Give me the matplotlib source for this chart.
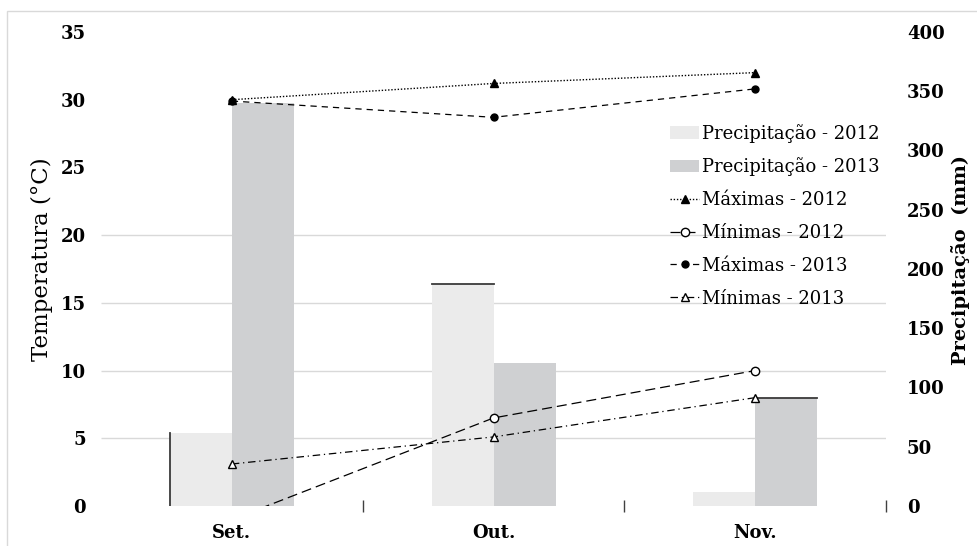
"""Monthly temperature extremes and rainfall, Sep-Nov 2012/2013."""

import matplotlib

matplotlib.use("Agg")
import matplotlib.pyplot as plt
import matplotlib.transforms as mtransforms
import numpy as np
from matplotlib.patches import Rectangle

months = ["Set.", "Out.", "Nov."]
precip_2012 = [62, 187, 12]
precip_2013 = [340, 121, 91]
tmax_2012 = [30.0, 31.2, 32.0]
tmin_2012 = [-1.0, 6.5, 10.0]
tmax_2013 = [29.9, 28.7, 30.8]
tmin_2013 = [3.1, 5.1, 8.0]

temp_ticks = [0, 5, 10, 15, 20, 25, 30, 35]
grid_levels = [5, 10, 15, 20]
precip_ticks = [0, 50, 100, 150, 200, 250, 300, 350, 400]

plt.rcParams["font.family"] = "DejaVu Serif"

fig = plt.figure(figsize=(9.77, 5.46), dpi=100)
fig.patches.append(Rectangle((0.0072, -0.02), 1.1, 1.0, transform=fig.transFigure,
                             fill=False, edgecolor="#d9d9d9", linewidth=1.0))

# bars live on the precipitation axis, temperature lines on a twin drawn above
ax_p = fig.add_axes([0.1034, 0.0733, 0.8035, 0.8681])
ax_t = ax_p.twinx()

x = np.arange(len(months))
w = 0.237
bars12 = ax_p.bar(x - w / 2, precip_2012, w, color="#ebebeb", zorder=2)
bars13 = ax_p.bar(x + w / 2, precip_2013, w, color="#cfd0d2", zorder=2)

# odd dark bar borders seen in the original export
edge = dict(color="#3a3a3a", linewidth=1.3, zorder=3)
b = bars12[0]
ax_p.plot([b.get_x(), b.get_x()], [0, b.get_height()], **edge)
for b in (bars12[1], bars13[2]):
    ax_p.plot([b.get_x(), b.get_x() + b.get_width()], [b.get_height()] * 2, **edge)

# horizontal gridlines follow the temperature scale but sit under the bars
grid_tr = mtransforms.blended_transform_factory(ax_p.transAxes, ax_t.transData)
ax_p.hlines(grid_levels, 0, 1, transform=grid_tr, color="#d9d9d9", linewidth=1.0, zorder=1)

ax_t.plot(x, tmax_2012, color="black", linewidth=1.0, linestyle=(0, (1, 1.3)),
          marker="^", markersize=6, label="Máximas - 2012")
ax_t.plot(x, tmin_2012, color="black", linewidth=0.9, linestyle=(0, (8, 4)),
          marker="o", markersize=6, markerfacecolor="white", label="Minímas - 2012")
ax_t.plot(x, tmax_2013, color="black", linewidth=0.9, linestyle=(0, (5, 4)),
          marker="o", markersize=5, label="Máximas - 2013")
ax_t.plot(x, tmin_2013, color="black", linewidth=0.9, linestyle=(0, (6, 3, 1, 3)),
          marker="^", markersize=6, markerfacecolor="white", label="Minímas - 2013")

ax_p.set_xlim(-0.5, 2.5)
ax_p.set_ylim(0, 400)
ax_t.set_ylim(0, 35)

ax_p.set_xticks(x)
ax_p.set_xticklabels(months, fontsize=13, fontweight="bold")
ax_p.set_xticks(x + 0.5, minor=True)
ax_p.tick_params(axis="x", which="major", length=0, pad=13)
ax_p.tick_params(axis="x", which="minor", direction="inout", length=9,
                 width=1.0, color="#404040")

ax_p.yaxis.tick_right()
ax_p.yaxis.set_label_position("right")
ax_p.set_yticks(precip_ticks)
ax_p.tick_params(axis="y", length=0, pad=15, labelsize=13)
for lab in ax_p.get_yticklabels():
    lab.set_fontweight("bold")
ax_p.set_ylabel("Precipitação  (mm)", fontsize=14, fontweight="bold")
ax_p.yaxis.set_label_coords(1.083, 0.52)

ax_t.yaxis.tick_left()
ax_t.yaxis.set_label_position("left")
ax_t.set_yticks(temp_ticks)
ax_t.tick_params(axis="y", length=0, pad=11, labelsize=13)
for lab in ax_t.get_yticklabels():
    lab.set_fontweight("bold")
ax_t.set_ylabel("Temperatura (°C)", fontsize=16.5)
ax_t.yaxis.set_label_coords(-0.061, 0.52)

for a in (ax_p, ax_t):
    for s in a.spines.values():
        s.set_visible(False)

handles = [bars12, bars13] + ax_t.get_lines()
labels = ["Precipitação - 2012", "Precipitação - 2013", "Máximas - 2012",
          "Mínimas - 2012", "Máximas - 2013", "Mínimas - 2013"]
fig.legend(handles, labels, loc="upper left", bbox_to_anchor=(0.677, 0.79),
           frameon=False, fontsize=13, borderpad=0, labelspacing=0.82,
           handlelength=1.6, handletextpad=0.15)

fig.savefig("out.png", dpi=100)
